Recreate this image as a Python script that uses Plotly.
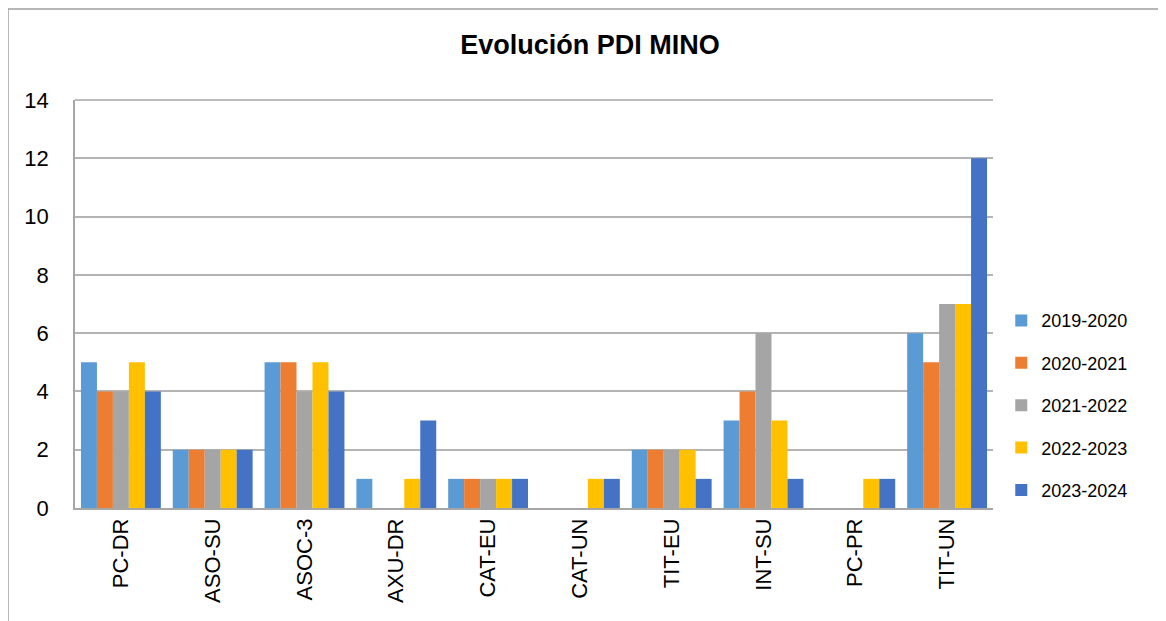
import plotly.graph_objects as go

categories = ["PC-DR", "ASO-SU", "ASOC-3", "AXU-DR", "CAT-EU", "CAT-UN", "TIT-EU", "INT-SU", "PC-PR", "TIT-UN"]
series_names = ["2019-2020", "2020-2021", "2021-2022", "2022-2023", "2023-2024"]
v2019 = [5, 2, 5, 1, 1, 0, 2, 3, 0, 6]
v2020 = [4, 2, 5, 0, 1, 0, 2, 4, 0, 5]
v2021 = [4, 2, 4, 0, 1, 0, 2, 6, 0, 7]
v2022 = [5, 2, 5, 1, 1, 1, 2, 3, 1, 7]
v2023 = [4, 2, 4, 3, 1, 1, 1, 1, 1, 12]
colors = ["#5B9BD5", "#ED7D31", "#A5A5A5", "#FFC000", "#4472C4"]

font_family = "Liberation Sans, Arial, sans-serif"

W, H = 1158, 613
L, T, PW, PH = 67, 92, 918, 408

fig = go.Figure()
for i, (name, vals) in enumerate(zip(series_names, [v2019, v2020, v2021, v2022, v2023])):
    fig.add_trace(go.Bar(
        x=categories, y=vals, name=name, legendgroup=name,
        marker=dict(color=colors[i], line=dict(width=0)),
    ))

fig.update_layout(
    width=W, height=H,
    paper_bgcolor="white", plot_bgcolor="white",
    barmode="group", bargap=0.13, bargroupgap=0,
    margin=dict(l=L, r=W - L - PW, t=T, b=H - T - PH, autoexpand=False),
    title=dict(text="<b>Evolución PDI MINO</b>", x=0.5026, xanchor="center",
               y=1 - 37 / H, yanchor="middle",
               font=dict(family=font_family, size=27, color="black")),
    font=dict(family=font_family, color="black"),
    legend=dict(x=1.009, xanchor="left", y=0.252, yanchor="middle",
                font=dict(size=18, color="black"), tracegroupgap=16,
                itemwidth=30, traceorder="grouped"),
    showlegend=True,
)
fig.update_xaxes(
    tickangle=-90, tickfont=dict(size=22), showline=True,
    linecolor="#A6A6A6", linewidth=1.5, ticks="", showgrid=False,
    automargin=False,
)
fig.update_yaxes(
    range=[0, 14], dtick=2, tickfont=dict(size=22), showgrid=True,
    gridcolor="#B4B4B4", gridwidth=1.5, showline=True, linecolor="#A6A6A6",
    linewidth=1.5, zeroline=False, ticklabelstandoff=20, automargin=False,
)
fig.add_shape(type="line", xref="paper", yref="paper", x0=0, x1=1, y0=1, y1=1,
              line=dict(color="#A6A6A6", width=1.5))
# outer chart border
fig.add_shape(type="rect", xref="paper", yref="paper",
              x0=(0 - L) / PW, x1=(1200 - L) / PW,
              y0=(T + PH - 640) / PH, y1=(T + PH - 1) / PH,
              line=dict(color="#A0A0A0", width=1.5), layer="below")

fig.write_html("out.html")
